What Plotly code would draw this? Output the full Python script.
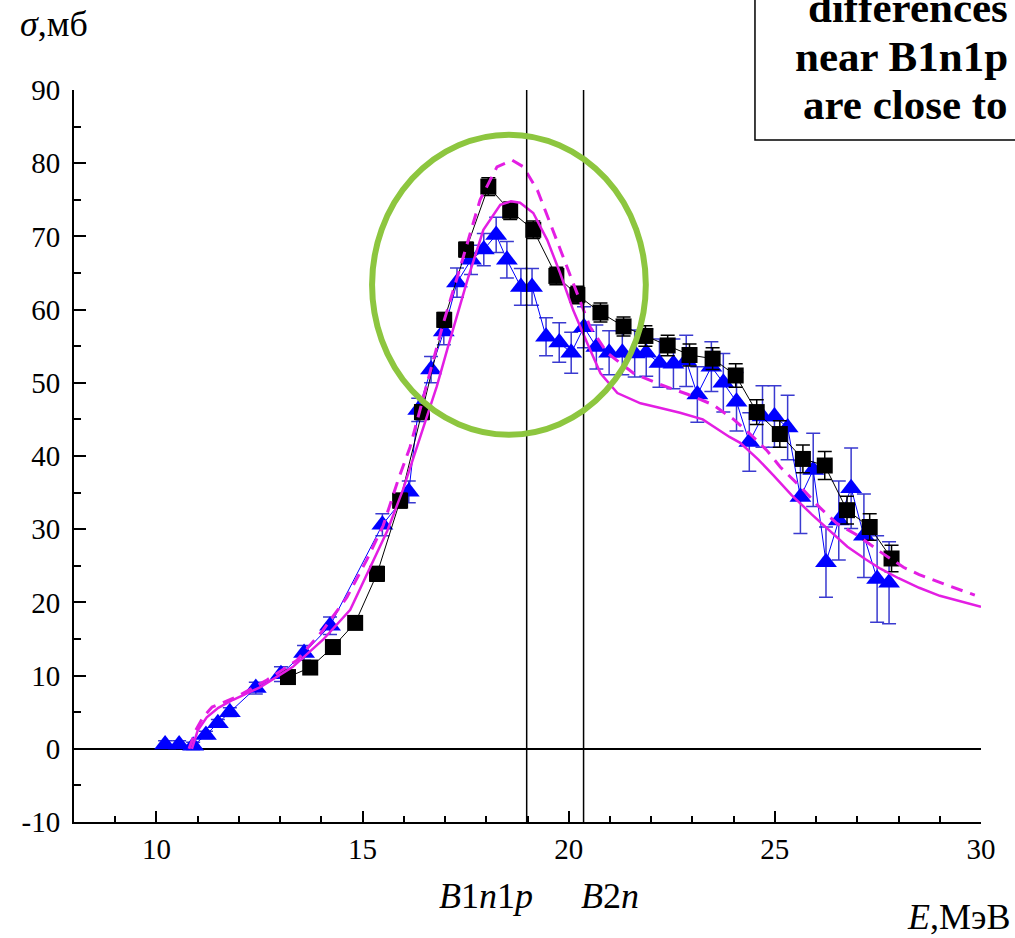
import plotly.graph_objects as go

# ---------------- data ----------------
sq_E = [13.19, 13.73, 14.28, 14.82, 15.35, 15.91, 16.44, 16.98, 17.51, 18.05, 18.58, 19.14, 19.70, 20.21,
        20.77, 21.33, 21.86, 22.40, 22.93, 23.49, 24.05, 24.56, 25.12, 25.68, 26.21, 26.75, 27.30, 27.83]
sq_s = [9.8, 11.1, 13.9, 17.2, 23.9, 33.9, 46.0, 58.6, 68.2, 76.8, 73.5, 70.9, 64.6, 62.0,
        59.6, 57.7, 56.4, 55.1, 53.8, 53.3, 51.0, 46.0, 43.0, 39.6, 38.7, 32.6, 30.3, 26.0]
sq_err = [0.8, 0.8, 0.8, 0.8, 1.0, 1.0, 1.0, 1.0, 1.0, 1.2, 1.2, 1.2, 1.2, 1.2,
          1.3, 1.3, 1.4, 1.4, 1.5, 1.5, 1.6, 1.7, 1.8, 1.9, 1.9, 1.9, 1.8, 1.8]

tr_E = [10.21, 10.55, 10.89, 11.20, 11.49, 11.78, 12.41, 13.02, 13.58, 14.21, 15.48, 16.12, 16.35,
        16.66, 16.97, 17.29, 17.63, 17.94, 18.24, 18.50, 18.84, 19.11, 19.45, 19.77, 20.06, 20.37,
        20.67, 20.98, 21.30, 21.60, 21.88, 22.20, 22.54, 22.85, 23.12, 23.46, 23.75, 24.07, 24.38,
        24.70, 24.99, 25.31, 25.62, 25.93, 26.24, 26.55, 26.85, 27.16, 27.48, 27.77]
tr_s = [0.6, 0.6, 0.4, 1.9, 3.5, 5.0, 8.3, 10.2, 13.1, 16.8, 30.6, 35.1, 46.3,
        51.8, 57.0, 63.7, 66.8, 68.2, 70.2, 66.8, 63.1, 63.1, 56.3, 55.5, 54.1, 57.6,
        54.9, 54.1, 54.1, 54.0, 54.1, 52.7, 52.6, 53.0, 48.4, 52.2, 50.0, 47.4, 41.9,
        45.4, 45.4, 43.9, 34.4, 38.1, 25.5, 31.2, 35.6, 29.1, 23.2, 22.7]
tr_err = [0.5, 0.5, 0.5, 0.5, 0.5, 0.6, 0.8, 1.0, 1.0, 1.2, 1.5, 1.5, 1.6,
          1.8, 1.8, 2.0, 2.0, 2.2, 2.4, 2.5, 2.5, 2.5, 2.6, 2.7, 2.8, 2.8,
          3.0, 3.0, 3.0, 3.2, 3.2, 3.3, 3.4, 3.5, 3.8, 3.4, 4.0, 4.0, 4.0,
          4.2, 4.2, 4.4, 5.0, 5.0, 4.8, 5.4, 5.5, 5.7, 5.9, 5.6]

th_solid_E = [10.86, 11.0, 11.22, 11.5, 11.86, 12.51, 13.31, 14.04, 14.7, 15.18, 15.6, 15.98, 16.4,
              16.8, 17.05, 17.54, 17.93, 18.34, 18.6, 18.82, 19.14, 19.48, 19.79, 20.11, 20.45,
              20.77, 21.18, 21.74, 22.2, 22.7, 23.25, 23.9, 24.16, 24.6, 24.96, 25.4, 25.9, 26.4,
              26.76, 27.2, 27.56, 28.0, 28.5, 29.0, 29.5, 30.0]
th_solid_s = [0.0, 2.5, 4.3, 5.6, 6.7, 8.4, 11.2, 14.9, 19.0, 24.8, 29.8, 35.4, 42.6,
              49.5, 54.5, 64.0, 70.9, 74.3, 74.8, 74.6, 73.2, 69.5, 65.0, 59.9, 55.4,
              51.3, 48.6, 47.2, 46.6, 45.9, 45.0, 42.6, 41.8, 39.5, 37.4, 34.7, 32.0, 29.4,
              27.6, 25.9, 24.6, 23.3, 22.0, 20.9, 20.1, 19.4]

th_dash_E = [10.79, 10.95, 11.13, 11.35, 11.95, 12.68, 13.41, 14.04, 14.62, 15.1, 15.5, 15.86, 16.15,
             16.52, 16.95, 17.37, 17.85, 18.26, 18.63, 18.9, 19.24, 19.55, 19.87, 20.2, 20.52,
             20.93, 21.57, 22.2, 22.9, 23.5, 24.0, 24.4, 24.8, 25.13, 25.62, 26.1, 26.5, 26.99,
             27.56, 28.12, 28.5, 29.2, 29.85]
th_dash_s = [0.0, 2.5, 4.3, 5.7, 7.1, 9.4, 12.1, 16.2, 20.7, 25.8, 30.5, 36.7, 41.2,
             49.0, 58.0, 65.8, 75.0, 79.5, 80.4, 79.5, 76.3, 71.8, 67.2, 62.3, 57.6,
             54.1, 51.3, 49.8, 48.4, 47.0, 45.0, 43.0, 40.8, 38.5, 35.8, 32.9, 30.8, 29.2,
             26.9, 24.8, 23.8, 22.3, 21.0]

thresholds = {"B1n1p": 18.98, "B2n": 20.36}

x_ticks = [10, 15, 20, 25, 30]
y_ticks = [-10, 0, 10, 20, 30, 40, 50, 60, 70, 80, 90]

SERIF = "Liberation Serif, Times New Roman, serif"
MAG = "#e31ee3"
BLUE = "#0000ff"

fig = go.Figure()

fig.add_trace(go.Scatter(
    x=tr_E, y=tr_s, mode="lines+markers",
    line=dict(color=BLUE, width=1),
    marker=dict(symbol="triangle-up", size=19, color=BLUE),
    error_y=dict(type="data", array=tr_err, visible=True, color="#3a3ad0", thickness=1.5, width=7),
))
fig.add_trace(go.Scatter(
    x=sq_E, y=sq_s, mode="lines+markers",
    line=dict(color="black", width=1),
    marker=dict(symbol="square", size=16, color="black"),
    error_y=dict(type="data", array=sq_err, visible=True, color="black", thickness=1.5, width=7),
))
fig.add_trace(go.Scatter(
    x=th_dash_E, y=th_dash_s, mode="lines",
    line=dict(color=MAG, width=3, dash="12px,8px"),
))
fig.add_trace(go.Scatter(
    x=th_solid_E, y=th_solid_s, mode="lines",
    line=dict(color=MAG, width=2.5),
))

# threshold vertical lines
for name, e in thresholds.items():
    fig.add_shape(type="line", xref="x", yref="y", x0=e, x1=e, y0=-10, y1=90,
                  line=dict(color="black", width=1.5))

# green ellipse
fig.add_shape(type="circle", xref="x", yref="y", x0=15.23, x1=21.87, y0=42.9, y1=83.9,
              line=dict(color="#8dc63f", width=6))

# text box at top right
fig.add_shape(type="rect", xref="paper", yref="paper", x0=0.7508, x1=1.2, y0=0.9317, y1=1.3,
              line=dict(color="black", width=1.5), fillcolor="white", layer="above")

PX_L, PX_R, PX_T, PX_B = 74, 981, 90, 822
def px(x):
    return (x - PX_L) / (PX_R - PX_L)
def py(y):
    return (PX_B - y) / (PX_B - PX_T)

box_lines = [("differences", 8), ("near B1n1p", 57), ("are close to", 105)]
for txt, yy in box_lines:
    fig.add_annotation(xref="paper", yref="paper", x=px(1010), y=py(yy), text="<b>" + txt + "</b>",
                       showarrow=False, xanchor="right", yanchor="middle",
                       font=dict(family=SERIF, size=43, color="black"))

fig.add_annotation(xref="paper", yref="paper", x=px(54), y=py(24), text="<i>σ</i>,мб",
                   showarrow=False, xanchor="center", yanchor="middle",
                   font=dict(family=SERIF, size=36, color="black"))
fig.add_annotation(xref="paper", yref="paper", x=px(486), y=py(896), text="<i>B</i>1<i>n</i>1<i>p</i>",
                   showarrow=False, xanchor="center", yanchor="middle",
                   font=dict(family=SERIF, size=36, color="black"))
fig.add_annotation(xref="paper", yref="paper", x=px(610), y=py(896), text="<i>B</i>2<i>n</i>",
                   showarrow=False, xanchor="center", yanchor="middle",
                   font=dict(family=SERIF, size=36, color="black"))
fig.add_annotation(xref="paper", yref="paper", x=px(958), y=py(917), text="<i>E</i>,МэВ",
                   showarrow=False, xanchor="center", yanchor="middle",
                   font=dict(family=SERIF, size=36, color="black"))

fig.update_xaxes(range=[8, 30], tickvals=x_ticks, ticktext=[str(v) for v in x_ticks],
                 showline=True, linecolor="black", linewidth=2,
                 ticks="inside", ticklen=11, tickwidth=2, tickcolor="black",
                 minor=dict(ticks="inside", ticklen=6, tickwidth=2, dtick=1, tick0=0, tickcolor="black"),
                 showgrid=False, zeroline=False,
                 tickfont=dict(family=SERIF, size=29, color="black"))
fig.update_yaxes(range=[-10, 90], tickvals=y_ticks, ticktext=[str(v) for v in y_ticks],
                 showline=True, linecolor="black", linewidth=2,
                 ticks="inside", ticklen=12, tickwidth=2, tickcolor="black",
                 minor=dict(ticks="inside", ticklen=7, tickwidth=2, dtick=5, tick0=0, tickcolor="black"),
                 showgrid=False, zeroline=True, zerolinecolor="black", zerolinewidth=2,
                 ticklabelstandoff=6,
                 tickfont=dict(family=SERIF, size=29, color="black"))

fig.update_layout(width=1015, height=938, margin=dict(l=PX_L, r=1015 - PX_R, t=PX_T, b=938 - PX_B),
                  paper_bgcolor="white", plot_bgcolor="white", showlegend=False,
                  font=dict(family=SERIF, color="black"))

fig.write_html("out.html")
